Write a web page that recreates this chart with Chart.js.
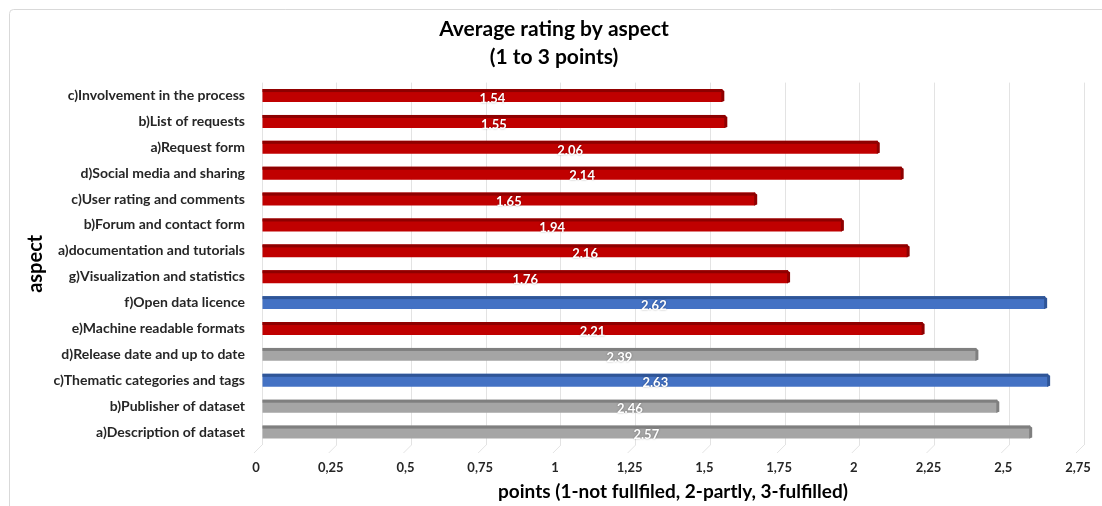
<!DOCTYPE html>
<html>
<head>
<meta charset="utf-8">
<script src="https://cdn.jsdelivr.net/npm/chart.js@4.4.0/dist/chart.umd.min.js"></script>
<style>
  html, body { margin: 0; padding: 0; background: #fff; }
  #wrap { width: 1102px; height: 506px; }
</style>
</head>
<body>
<div id="wrap"><canvas id="chart"></canvas></div>
<script>
// aspects, top to bottom as in the picture
const aspects = [
  "c)Involvement in the process",
  "b)List of requests",
  "a)Request form",
  "d)Social media and sharing",
  "c)User rating and comments",
  "b)Forum and contact form",
  "a)documentation and tutorials",
  "g)Visualization and statistics",
  "f)Open data licence",
  "e)Machine readable formats",
  "d)Release date and up to date",
  "c)Thematic categories and tags",
  "b)Publisher of dataset",
  "a)Description of dataset"
]
const ratings = [1.54, 1.55, 2.06, 2.14, 1.65, 1.94, 2.16, 1.76, 2.62, 2.21, 2.39, 2.63, 2.46, 2.57]
// which colour group each bar belongs to
const groups = ["red", "red", "red", "red", "red", "red", "red", "red", "blue", "red", "grey", "blue", "grey", "grey"]
const xTicks = [0, 0.25, 0.5, 0.75, 1, 1.25, 1.5, 1.75, 2, 2.25, 2.5, 2.75]

const fill = { red: "#C00000", blue: "#4472C4", grey: "#A5A5A5" }
const edge = { red: "#8E0000", blue: "#2F5597", grey: "#7F7F7F" }
const FONT = "Lato, 'Open Sans', sans-serif"

// pseudo 3d look: darker top face and right cap, plus value labels
const bar3d = {
  id: "bar3d",
  beforeDraw(chart) {
    const ctx = chart.ctx
    ctx.save()
    ctx.strokeStyle = "#D9D9D9"
    ctx.lineWidth = 1
    ctx.beginPath()
    ctx.moveTo(9.5, 520)
    ctx.lineTo(9.5, 14)
    ctx.arcTo(9.5, 9.5, 14, 9.5, 4)
    ctx.lineTo(1120, 9.5)
    ctx.stroke()
    // floor lines of the gridlines
    const xs = chart.scales.x, area = chart.chartArea
    ctx.strokeStyle = "#E3E3E3"
    xTicks.forEach(v => {
      const px = xs.getPixelForValue(v)
      ctx.beginPath()
      ctx.moveTo(px, area.bottom)
      ctx.lineTo(px - 8, area.bottom + 8)
      ctx.stroke()
    })
    ctx.restore()
  },
  afterDatasetsDraw(chart) {
    const ctx = chart.ctx
    const meta = chart.getDatasetMeta(0)
    ctx.save()
    meta.data.forEach((bar, i) => {
      const p = bar.getProps(["x", "y", "base", "height"], true)
      const top = p.y - p.height / 2
      const g = groups[i]
      ctx.fillStyle = edge[g]
      ctx.fillRect(p.base, top, p.x - p.base, 3)
      ctx.beginPath()
      ctx.moveTo(p.x - 1, top)
      ctx.lineTo(p.x + 2, top + 2)
      ctx.lineTo(p.x + 2, top + p.height - 1)
      ctx.lineTo(p.x - 1, top + p.height)
      ctx.closePath()
      ctx.fill()
      ctx.fillStyle = "#FFFFFF"
      ctx.font = "bold 13px " + FONT
      ctx.textAlign = "center"
      ctx.textBaseline = "middle"
      ctx.shadowColor = "rgba(0,0,0,0.35)"
      ctx.shadowBlur = 2
      ctx.fillText(ratings[i].toFixed(2), (p.base + p.x) / 2, p.y + 3)
      ctx.shadowBlur = 0
    })
    ctx.restore()
  }
}

new Chart(document.getElementById("chart"), {
  type: "bar",
  data: {
    labels: aspects,
    datasets: [{
      data: ratings,
      backgroundColor: groups.map(g => fill[g]),
      barPercentage: 0.5,
      categoryPercentage: 1.0,
      borderWidth: 0
    }]
  },
  options: {
    indexAxis: "y",
    responsive: true,
    maintainAspectRatio: false,
    animation: false,
    layout: { padding: { left: 24, right: 18, top: 14, bottom: 2 } },
    plugins: {
      legend: { display: false },
      tooltip: { enabled: false },
      title: {
        display: true,
        text: ["Average rating by aspect", "(1 to 3 points)"],
        color: "#000000",
        font: { family: FONT, size: 21, weight: "bold", lineHeight: 1.3 },
        padding: { top: 2, bottom: 12 }
      }
    },
    scales: {
      x: {
        min: 0,
        max: 2.75,
        afterBuildTicks: scale => { scale.ticks = xTicks.map(v => ({ value: v })) },
        afterFit: scale => {
          scale.height = 59
          scale.paddingLeft = 0
          scale.paddingRight = 0
        },
        grid: { color: "#E3E3E3", drawTicks: false },
        border: { display: false },
        ticks: {
          padding: 15,
          labelOffset: -6,
          maxRotation: 0,
          color: "#262626",
          font: { family: FONT, size: 13, weight: "bold" },
          callback: v => String(v).replace(".", ",")
        },
        title: {
          display: true,
          text: "points (1-not fullfiled, 2-partly, 3-fulfilled)",
          color: "#000000",
          font: { family: FONT, size: 19, weight: "bold", lineHeight: 1.1 },
          padding: { top: 2, bottom: 2 }
        }
      },
      y: {
        grid: { display: false },
        border: { display: false },
        afterFit: scale => { scale.width = 238 },
        ticks: {
          padding: 9,
          color: "#262626",
          font: { family: FONT, size: 14, weight: "bold" }
        },
        title: {
          display: true,
          text: "aspect",
          color: "#000000",
          font: { family: FONT, size: 20, weight: "bold" },
          padding: { top: 0, bottom: 4 }
        }
      }
    }
  },
  plugins: [bar3d]
})
</script>
</body>
</html>
